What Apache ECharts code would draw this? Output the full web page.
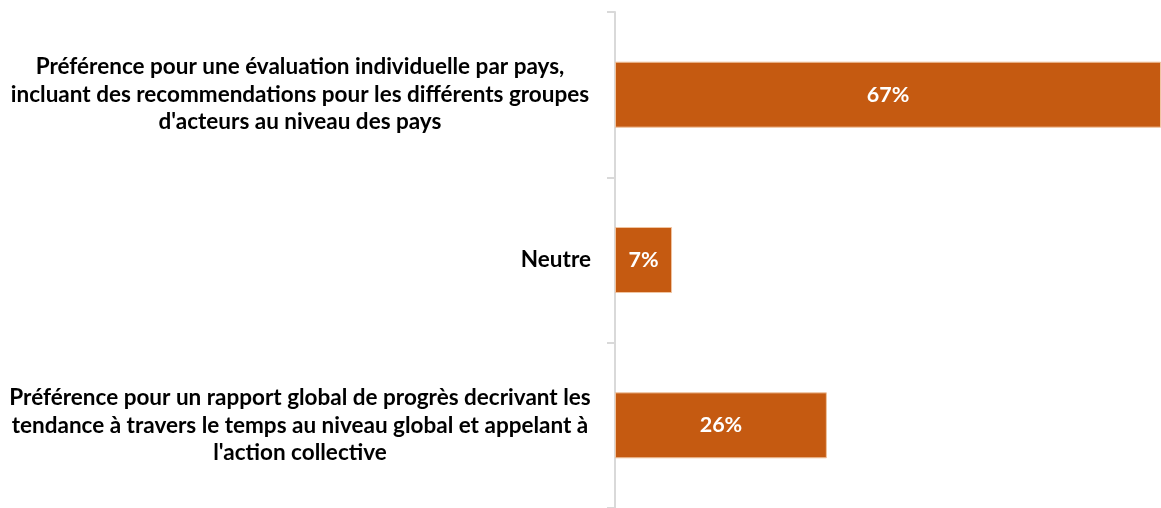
<!DOCTYPE html>
<html><head><meta charset="utf-8">
<script src="https://cdn.jsdelivr.net/npm/echarts@6/dist/echarts.min.js"></script>
<style>html,body{margin:0;padding:0;background:#fff}#c{width:1161px;height:508px}</style>
</head><body><div id="c"></div>
<script>
const categories = [
  "Préférence pour un rapport global de progrès decrivant les\ntendance à travers le temps au niveau global et appelant à\nl'action collective",
  "Neutre",
  "Préférence pour une évaluation individuelle par pays,\nincluant des recommendations pour les différents groupes\nd'acteurs au niveau des pays"
];
const values = [26, 7, 67];
const labelAlign = ["c", "r", "c"];

const FONT = 'Lato, "Open Sans", sans-serif';
const txt = { fontFamily: FONT, fontWeight: 'bold', fontSize: 22.5, lineHeight: 27.5, color: '#000' };

const chart = echarts.init(document.getElementById('c'));
chart.setOption({
  animation: false,
  grid: { left: 615, right: 0, top: 12, height: 499, containLabel: false },
  xAxis: { type: 'value', min: 0, max: 67, show: false },
  yAxis: {
    type: 'category',
    data: categories,
    axisLine: { show: true, lineStyle: { color: '#d9d9d9', width: 2 } },
    axisTick: { show: true, length: 8, lineStyle: { color: '#d9d9d9', width: 2 } },
    axisLabel: Object.assign({
      margin: 24,
      align: 'right',
      width: 582,
      overflow: 'none',
      formatter: function (v, i) {
        const k = labelAlign[i];
        return v.split('\n').map(l => '{' + k + '|' + l + '}').join('\n');
      },
      rich: {
        c: Object.assign({ align: 'center' }, txt),
        r: Object.assign({ align: 'right' }, txt)
      }
    }, txt)
  },
  series: [{
    type: 'bar',
    data: values,
    barWidth: 66,
    itemStyle: { color: '#C55A11', borderColor: '#f0c4a0', borderWidth: 1 },
    label: {
      show: true, position: 'inside', formatter: '{c}%',
      color: '#fff', fontWeight: 'bold', fontSize: 21.5,
      fontFamily: FONT
    }
  }]
});
</script></body></html>
